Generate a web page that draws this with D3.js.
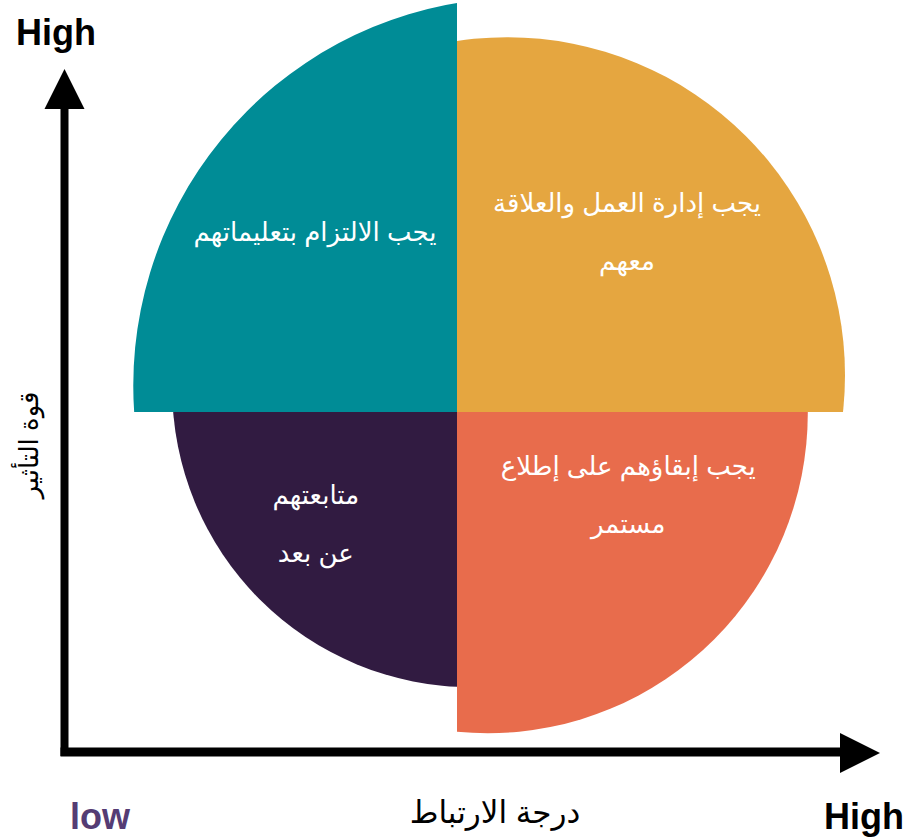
<!DOCTYPE html>
<html>
<head>
<meta charset="utf-8">
<title>Stakeholder grid</title>
<style>
body { margin: 0; background: #fff; }
.quad-label { fill: #fff; font-family: Arial, "DejaVu Sans", sans-serif; font-size: 26px; }
.end-label { font-family: Arial, "Liberation Sans", sans-serif; font-weight: bold; font-size: 36px; }
.axis-title { font-family: Arial, "DejaVu Sans", sans-serif; fill: #000; }
</style>
</head>
<body>
<svg width="907" height="839"></svg>
<script src="https://d3js.org/d3.v7.min.js"></script>
<script>

// quadrants: top-left, top-right, bottom-right, bottom-left
var quadrants = ["keepSatisfied", "manageClosely", "keepInformed", "monitor"];
var quadSignX = [-1, 1, 1, -1];
var quadSignY = [1, 1, -1, -1];
var labelLines = [
  ["يجب الالتزام بتعليماتهم"],
  ["يجب إدارة العمل والعلاقة", "معهم"],
  ["يجب إبقاؤهم على إطلاع", "مستمر"],
  ["متابعتهم", "عن بعد"]
];
// each segment is a circle arc (centre offset + radius, in grid units) cut to its quadrant
var arcCenterX = [0.161, 0.125, 0.077, 0.036];
var arcCenterY = [0.066, 0.092, -0.003, 0.060];
var arcRadius  = [0.970, 0.845, 0.800, 0.748];
// label anchor (grid units)
var labelX = [-0.355, 0.425, 0.428, -0.353];
var labelY = [0.45, 0.522, -0.135, -0.207];
var colors = ["#008c96", "#e5a640", "#e86c4c", "#311b41"];

var axisLow = "low", axisHigh = "High";
var xTitle = "درجة الارتباط", yTitle = "قوة التأثير";

var svg = d3.select("svg"),
    width = +svg.attr("width"),
    height = +svg.attr("height");

var x = d3.scaleLinear().domain([-1, 1]).range([57, 857]),
    y = d3.scaleLinear().domain([-1, 1]).range([812, 12]),
    r = d3.scaleLinear().domain([0, 1]).range([0, 400]);

var data = quadrants.map(function(q, i) {
  return {
    id: q, sx: quadSignX[i], sy: quadSignY[i],
    cx: arcCenterX[i], cy: arcCenterY[i], r: arcRadius[i],
    lx: labelX[i], ly: labelY[i], lines: labelLines[i], color: colors[i]
  };
});

var defs = svg.append("defs");
defs.selectAll("clipPath")
  .data(data)
  .enter().append("clipPath")
    .attr("id", function(d) { return "clip-" + d.id; })
  .append("rect")
    .attr("x", function(d) { return d.sx < 0 ? 0 : x(0); })
    .attr("y", function(d) { return d.sy > 0 ? 0 : y(0); })
    .attr("width", function(d) { return d.sx < 0 ? x(0) : width - x(0); })
    .attr("height", function(d) { return d.sy > 0 ? y(0) : height - y(0); });

var arc = d3.arc()
    .innerRadius(0)
    .startAngle(0)
    .endAngle(2 * Math.PI);

svg.selectAll("g.segment")
  .data(data)
  .enter().append("g")
    .attr("class", "segment")
    .attr("clip-path", function(d) { return "url(#clip-" + d.id + ")"; })
  .append("path")
    .attr("transform", function(d) { return "translate(" + x(d.cx) + "," + y(d.cy) + ")"; })
    .attr("d", function(d) { return arc({outerRadius: r(d.r)}); })
    .style("fill", function(d) { return d.color; });

var lineGap = 58;
var labels = svg.selectAll("text.quad-label")
  .data(data)
  .enter().append("text")
    .attr("class", "quad-label")
    .attr("direction", "rtl")
    .attr("text-anchor", "middle")
    .attr("x", function(d) { return x(d.lx); })
    .attr("y", function(d) { return y(d.ly); });

labels.selectAll("tspan")
  .data(function(d) { return d.lines.map(function(t, k) { return {t: t, k: k, x: x(d.lx)}; }); })
  .enter().append("tspan")
    .attr("x", function(d) { return d.x; })
    .attr("dy", function(d) { return d.k === 0 ? "0.35em" : lineGap; })
    .text(function(d) { return d.t; });

// axes with arrow heads
var axisX0 = 64.5, axisY0 = 752,
    xTip = 880, yTip = 69, head = 40, headHalf = 20;

var g = svg.append("g");
g.append("line")
    .attr("x1", axisX0).attr("y1", axisY0 + 4)
    .attr("x2", axisX0).attr("y2", yTip + head - 2)
    .attr("stroke", "#000").attr("stroke-width", 8);
g.append("line")
    .attr("x1", axisX0 - 4).attr("y1", axisY0)
    .attr("x2", xTip - head + 2).attr("y2", axisY0)
    .attr("stroke", "#000").attr("stroke-width", 9);
g.append("path")
    .attr("d", d3.line()([[axisX0, yTip], [axisX0 - headHalf, yTip + head], [axisX0 + headHalf, yTip + head]]) + "Z")
    .attr("fill", "#000");
g.append("path")
    .attr("d", d3.line()([[xTip, axisY0 + 1], [xTip - head, axisY0 - headHalf + 1], [xTip - head, axisY0 + headHalf + 1]]) + "Z")
    .attr("fill", "#000");

svg.append("text")
    .attr("class", "end-label")
    .attr("x", 16).attr("y", 45)
    .text(axisHigh);
svg.append("text")
    .attr("class", "end-label")
    .attr("x", 824).attr("y", 829)
    .text(axisHigh);
svg.append("text")
    .attr("class", "end-label")
    .attr("x", 70).attr("y", 829)
    .style("fill", "#553c74")
    .text(axisLow);

svg.append("text")
    .attr("class", "axis-title")
    .attr("direction", "rtl")
    .attr("text-anchor", "middle")
    .style("font-size", "31px")
    .attr("x", 495).attr("y", 823)
    .text(xTitle);
svg.append("text")
    .attr("class", "axis-title")
    .attr("direction", "rtl")
    .attr("text-anchor", "middle")
    .style("font-size", "26px")
    .attr("transform", "translate(38,445) rotate(-90)")
    .text(yTitle);

</script>
</body>
</html>
